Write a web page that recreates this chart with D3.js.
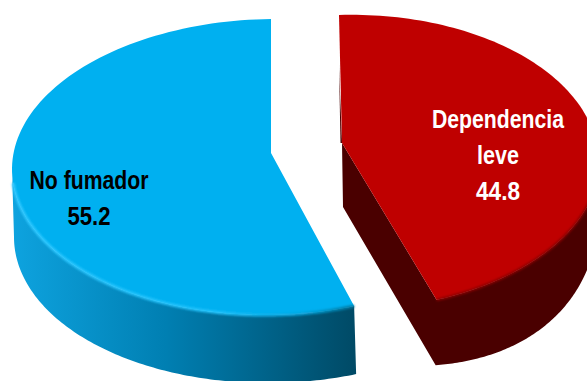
<!DOCTYPE html>
<html>
<head>
<meta charset="utf-8">
<script src="https://d3js.org/d3.v7.min.js"></script>
<style>
html,body{margin:0;padding:0;background:#fff;overflow:hidden}
text{font-family:"Liberation Sans Narrow","Liberation Sans",sans-serif;font-weight:700;text-anchor:middle}
</style>
</head>
<body>
<svg id="chart" width="587" height="381"></svg>
<script>
const categories = ["Dependencia leve", "No fumador"];
const shares = [44.8, 55.2];
const labelLines = [["Dependencia", "leve"], ["No fumador"]];

// Geometry of each exploded wedge, seen from above in perspective.
const wedges = [
  {apex:[342,143], cx:348, cy:165, rx:251, ryTop:150, ryBottom:145, lean:0.06, tilt:-0.03,
   depth:52, bulge:22, shift:-1, top:"#bf0000", label:[498,127.5], widths:[132,42,44], fill:"#fff", gap:36},
  {apex:[271,153], cx:271, cy:166, rx:259, ryTop:147, ryBottom:149, lean:0, tilt:-0.012,
   depth:68, bulge:0, shift:2, top:"#00b0f0", label:[89,189], widths:[119,43], fill:"#000", gap:36}
];

const svg = d3.select("#chart");
const defs = svg.append("defs");

const addGradient = (id, x1, x2, stops) => {
  const g = defs.append("linearGradient").attr("id", id)
    .attr("gradientUnits","userSpaceOnUse").attr("x1",x1).attr("x2",x2).attr("y1",0).attr("y2",0);
  stops.forEach(([o, c]) => g.append("stop").attr("offset",o).attr("stop-color",c));
};
addGradient("sideBlue", 12, 355, [[0,"#0ea3df"],[0.45,"#007fb2"],[1,"#004a66"]]);
addGradient("rimBlue", 12, 355, [[0,"#30c8ff"],[0.6,"#22c2fb"],[0.85,"#08a4dc"],[1,"#00779f"]]);
defs.append("filter").attr("id","soft").attr("x","-10%").attr("y","-10%").attr("width","120%").attr("height","120%")
  .append("feGaussianBlur").attr("stdDeviation",1);

const slices = d3.pie().sort(null).startAngle(0).endAngle(2*Math.PI)(shares);
const rimLine = d3.line();

// Maps a pie angle onto the rim of the tilted disc.
const rimPoint = (w, t) => {
  const c = Math.cos(t);
  const flat = w.rx*Math.sin(t);
  const y = w.cy - (c > 0 ? w.ryTop : w.ryBottom)*c + w.tilt*flat;
  return [w.cx + flat + w.lean*(y - w.cy), y];
};
const sweep = (a, b) => d3.range(0, 121).map(i => a + (b-a)*i/120);
const drop = (w, t) => {
  const p = rimPoint(w, t);
  return [p[0] + w.shift, p[1] + w.depth + w.bulge*Math.abs(Math.sin(2*t))];
};

// Red wedge: cut face and outer wall as one shape, plus the sliver along its straight top edge
{
  const w = wedges[0], s = slices[0];
  const ts = sweep(Math.PI/2, s.endAngle);
  const start = rimPoint(w, s.startAngle);
  const body = [
    w.apex,
    [w.apex[0]+1, w.apex[1]+64],
    ...ts.slice().reverse().map(t => drop(w,t)),
    ...ts.map(t => rimPoint(w,t))
  ];
  svg.append("path").attr("fill","#4a0000").attr("d", rimLine(body) + "Z");
  svg.append("path").attr("fill","#4a0000")
    .attr("d", rimLine([[start[0], start[1]+50], w.apex, [w.apex[0]-1.5, w.apex[1]]]) + "Z");
}
// Blue wedge: outer wall with its shading
{
  const w = wedges[1], s = slices[1];
  const ts = sweep(s.startAngle, 1.5*Math.PI);
  svg.append("path").attr("fill","url(#sideBlue)")
    .attr("d", rimLine([...ts.map(t => rimPoint(w,t)), ...ts.slice().reverse().map(t => drop(w,t))]) + "Z");
}

// Top faces, each with a soft bevel where the rim meets the wall
slices.forEach((s, i) => {
  const w = wedges[i];
  const outline = [w.apex, ...sweep(s.startAngle, s.endAngle).map(t => rimPoint(w,t))];
  svg.append("path").attr("fill", w.top).attr("d", rimLine(outline) + "Z")
    .append("title").text(categories[i]);
  const lit = i === 1 ? sweep(s.startAngle, 1.47*Math.PI) : sweep(0.53*Math.PI, s.endAngle);
  svg.append("path").attr("fill","none")
    .attr("stroke", i === 1 ? "url(#rimBlue)" : "#8a0000")
    .attr("stroke-width", i === 1 ? 3 : 2.5).attr("filter","url(#soft)")
    .attr("d", rimLine(lit.map(t => rimPoint(w,t))));
});

// Wedge labels: name lines followed by the share
slices.forEach((s, i) => {
  const w = wedges[i];
  [...labelLines[i], d3.format(".1f")(shares[i])].forEach((line, k) => {
    svg.append("text").attr("x", w.label[0]).attr("y", w.label[1] + k*w.gap)
      .attr("fill", w.fill).attr("font-size", 25)
      .attr("textLength", w.widths[k]).attr("lengthAdjust","spacingAndGlyphs").text(line);
  });
});
</script>
</body>
</html>
